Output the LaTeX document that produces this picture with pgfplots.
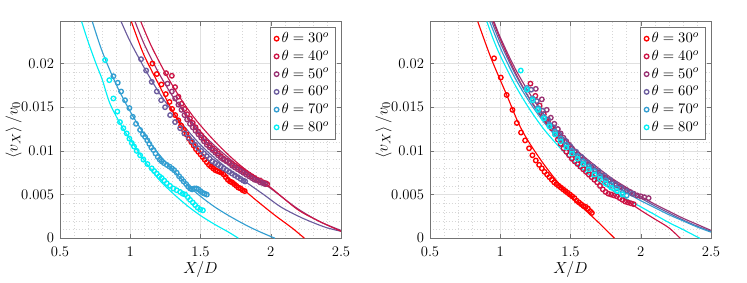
\documentclass[border=0pt]{standalone}
\usepackage{pgfplots}
\pgfplotsset{compat=1.18}
\definecolor{c30}{rgb}{1,0,0}
\definecolor{c40}{rgb}{0.80,0.08,0.27}
\definecolor{c50}{rgb}{0.60,0.20,0.45}
\definecolor{c60}{rgb}{0.42,0.36,0.62}
\definecolor{c70}{rgb}{0.20,0.62,0.82}
\definecolor{c80}{rgb}{0.0,0.94,0.96}
\pgfplotsset{
  myax/.style={
    scale only axis, width=210.75pt, height=162.5pt,
    xmin=0.5, xmax=2.5, ymin=0, ymax=0.0248,
    scaled y ticks=false, scaled x ticks=false,
    xtick={0.5,1,1.5,2,2.5}, xticklabels={0.5,1,1.5,2,2.5},
    ytick={0,0.005,0.01,0.015,0.02}, yticklabels={0,0.005,0.01,0.015,0.02},
    minor x tick num=4, minor y tick num=4,
    grid=both,
    major grid style={line width=0.4pt, draw=black!12},
    minor grid style={line width=0.35pt, draw=black!16, dotted},
    tick align=inside, axis line style={draw=black!55, line width=0.5pt},
    major tick length=3pt, minor tick length=0pt,
    tick style={draw=black!55},
    ticklabel style={font=\fontsize{11}{13}\selectfont},
    xticklabel style={yshift=-2.5pt},
    yticklabel style={xshift=-1pt},
    label style={font=\fontsize{12.5}{14}\selectfont},
    xlabel={$X/D$},
    ylabel={$\left\langle v_X\right\rangle/v_0$},
    xlabel style={at={(axis description cs:0.5,-0.145)}, anchor=north, inner sep=0pt, yshift=6pt},
    ylabel style={at={(axis description cs:-0.165,0.5)}, anchor=center},
    legend style={at={(0.982,0.975)}, anchor=north east, draw=black!55, font=\fontsize{11}{13}\selectfont, row sep=0.2pt, inner xsep=3pt, inner ysep=2pt},
    legend cell align=left,
    clip=true,
  },
  dat/.style={only marks, mark=o, mark size=1.7pt, mark options={line width=1pt, draw=#1}, color=#1},
  fit/.style={no marks, smooth, line width=0.85pt, color=#1, forget plot},
}
\begin{document}
\begin{tikzpicture}
\path[use as bounding box] (-45pt,-33.5pt) rectangle (515.25pt,178.7pt);
% ---------------- LEFT ----------------
\begin{axis}[myax, at={(0,0)}, anchor=south west]
\addplot[dat=c30] coordinates {(1.158,0.0200)(1.189,0.0188)(1.222,0.0176)(1.253,0.0165)(1.279,0.0156)(1.298,0.0148)(1.320,0.0141)(1.342,0.0135)(1.362,0.0129)(1.382,0.0124)(1.400,0.0119)(1.418,0.0114)(1.435,0.0110)(1.452,0.0106)(1.468,0.0102)(1.484,0.0099)(1.500,0.0096)(1.515,0.0093)(1.530,0.0090)(1.545,0.0087)(1.560,0.0084)(1.575,0.0082)(1.590,0.0080)(1.605,0.0078)(1.620,0.0077)(1.635,0.0076)(1.650,0.0075)(1.665,0.0073)(1.680,0.0070)(1.695,0.0067)(1.710,0.0065)(1.725,0.0064)(1.740,0.0062)(1.755,0.0060)(1.770,0.0058)(1.785,0.0057)(1.800,0.0055)(1.815,0.0054)};
\addlegendentry{$\theta=30^o$}
\addplot[dat=c40] coordinates {(1.255,0.0189)(1.296,0.0186)(1.319,0.0173)(1.343,0.0162)(1.365,0.0154)(1.386,0.0148)(1.405,0.0142)(1.425,0.0137)(1.445,0.0132)(1.465,0.0127)(1.485,0.0122)(1.505,0.0118)(1.525,0.0114)(1.545,0.0110)(1.565,0.0106)(1.585,0.0103)(1.605,0.0100)(1.625,0.0097)(1.645,0.0094)(1.665,0.0091)(1.685,0.0089)(1.705,0.0087)(1.725,0.0085)(1.745,0.0083)(1.765,0.0081)(1.785,0.0079)(1.805,0.0077)(1.825,0.0075)(1.845,0.0073)(1.865,0.0071)(1.885,0.0069)(1.905,0.0067)(1.925,0.0066)(1.945,0.0064)(1.965,0.0063)(1.975,0.0062)};
\addlegendentry{$\theta=40^o$}
\addplot[dat=c50] coordinates {(1.265,0.0177)(1.296,0.0168)(1.320,0.0160)(1.343,0.0153)(1.365,0.0147)(1.386,0.0141)(1.405,0.0136)(1.425,0.0131)(1.445,0.0127)(1.465,0.0123)(1.485,0.0119)(1.505,0.0115)(1.525,0.0111)(1.545,0.0107)(1.565,0.0104)(1.585,0.0101)(1.605,0.0098)(1.625,0.0095)(1.645,0.0092)(1.665,0.0090)(1.685,0.0088)(1.705,0.0086)(1.725,0.0083)(1.745,0.0081)(1.765,0.0079)(1.785,0.0077)(1.805,0.0075)(1.825,0.0073)(1.845,0.0071)(1.865,0.0069)(1.885,0.0067)(1.905,0.0066)(1.925,0.0064)(1.945,0.0063)(1.960,0.0062)};
\addlegendentry{$\theta=50^o$}
\addplot[dat=c60] coordinates {(1.077,0.0205)(1.113,0.0192)(1.153,0.0179)(1.189,0.0168)(1.220,0.0158)(1.248,0.0150)(1.284,0.0141)(1.319,0.0133)(1.355,0.0126)(1.385,0.0120)(1.415,0.0115)(1.440,0.0111)(1.462,0.0107)(1.485,0.0103)(1.505,0.0100)(1.525,0.0097)(1.545,0.0094)(1.565,0.0091)(1.585,0.0088)(1.605,0.0086)(1.625,0.0084)(1.645,0.0082)(1.665,0.0080)(1.685,0.0078)(1.705,0.0076)(1.725,0.0074)(1.745,0.0072)(1.765,0.0070)(1.785,0.0068)(1.805,0.0066)(1.818,0.0065)};
\addlegendentry{$\theta=60^o$}
\addplot[dat=c70] coordinates {(0.880,0.01855)(0.911,0.0178)(0.935,0.0168)(0.963,0.0158)(0.994,0.0149)(1.018,0.0139)(1.041,0.0131)(1.070,0.0124)(1.090,0.0119)(1.106,0.0116)(1.122,0.0112)(1.136,0.0108)(1.150,0.0104)(1.165,0.0101)(1.180,0.0097)(1.196,0.0093)(1.210,0.0090)(1.224,0.0088)(1.240,0.0086)(1.260,0.0084)(1.280,0.0082)(1.296,0.0080)(1.312,0.0078)(1.331,0.0075)(1.348,0.0071)(1.365,0.0068)(1.380,0.0065)(1.398,0.0062)(1.412,0.0059)(1.426,0.0057)(1.440,0.0056)(1.455,0.0057)(1.470,0.0057)(1.485,0.0056)(1.500,0.0054)(1.515,0.0052)(1.530,0.0051)(1.545,0.0050)};
\addlegendentry{$\theta=70^o$}
\addplot[dat=c80] coordinates {(0.821,0.0204)(0.851,0.0181)(0.880,0.0160)(0.908,0.0145)(0.927,0.0133)(0.951,0.0126)(0.975,0.0120)(0.994,0.0114)(1.011,0.0109)(1.027,0.0105)(1.046,0.0100)(1.070,0.0095)(1.094,0.0090)(1.122,0.0085)(1.153,0.0080)(1.170,0.0077)(1.189,0.0074)(1.207,0.0071)(1.224,0.0069)(1.242,0.0066)(1.260,0.0063)(1.283,0.0060)(1.307,0.0057)(1.330,0.0055)(1.355,0.0053)(1.373,0.0051)(1.391,0.0050)(1.410,0.0047)(1.426,0.0044)(1.445,0.0041)(1.462,0.0038)(1.480,0.0035)(1.498,0.0033)(1.517,0.0032)};
\addlegendentry{$\theta=80^o$}
% fits
\addplot[fit=c80] coordinates {(0.654,0.0248)(0.70,0.0225)(0.756,0.0200)(0.80,0.0182)(0.856,0.0154)(0.94,0.0128)(1.0,0.0113)(1.1,0.0089)(1.2,0.0068)(1.3,0.0052)(1.4,0.0038)(1.5,0.0026)(1.6,0.0016)(1.7,0.0007)(1.77,0)};
\addplot[fit=c70] coordinates {(0.730,0.0248)(0.80,0.0214)(0.9,0.0176)(1.0,0.0145)(1.1,0.0119)(1.2,0.0097)(1.3,0.0079)(1.4,0.0062)(1.5,0.0048)(1.6,0.0036)(1.7,0.0026)(1.8,0.0017)(1.9,0.0009)(2.03,0)};
\addplot[fit=c60] coordinates {(0.935,0.0248)(1.0,0.0225)(1.1,0.0195)(1.2,0.0168)(1.3,0.0145)(1.4,0.0125)(1.5,0.0107)(1.6,0.0092)(1.7,0.0079)(1.8,0.0067)(1.95,0.0050)(2.07,0.0036)(2.2,0.0025)(2.3,0.0018)(2.4,0.0012)(2.5,0.0008)};
\addplot[fit=c30] coordinates {(1.008,0.0248)(1.094,0.0211)(1.2,0.0177)(1.3,0.0146)(1.4,0.0120)(1.5,0.0099)(1.6,0.0082)(1.7,0.0068)(1.818,0.0054)(1.9,0.0043)(2.032,0.0026)(2.15,0.0012)(2.24,0)};
\addplot[fit=c50] coordinates {(1.034,0.0248)(1.1,0.0222)(1.2,0.0190)(1.3,0.0163)(1.4,0.0141)(1.5,0.0122)(1.6,0.0106)(1.7,0.0092)(1.8,0.0079)(1.9,0.0068)(2.0,0.0057)(2.19,0.0034)(2.35,0.0019)(2.5,0.0009)};
\addplot[fit=c40] coordinates {(1.075,0.0248)(1.15,0.0220)(1.25,0.0189)(1.35,0.0162)(1.45,0.0139)(1.55,0.0120)(1.65,0.0103)(1.75,0.0088)(1.85,0.0075)(2.0,0.0058)(2.19,0.0033)(2.35,0.0019)(2.5,0.0008)};
\end{axis}
% ---------------- RIGHT ----------------
\begin{axis}[myax, at={(277.5pt,0)}, anchor=south west]
\addplot[dat=c30] coordinates {(0.956,0.0206)(1.004,0.0184)(1.046,0.0164)(1.087,0.0147)(1.118,0.0132)(1.148,0.0121)(1.177,0.0112)(1.205,0.0103)(1.229,0.0095)(1.253,0.0089)(1.277,0.0084)(1.296,0.0080)(1.315,0.0076)(1.333,0.0073)(1.350,0.0070)(1.367,0.0067)(1.384,0.0064)(1.400,0.0062)(1.416,0.0060)(1.432,0.0058)(1.448,0.0056)(1.464,0.0054)(1.480,0.0052)(1.496,0.0050)(1.512,0.0048)(1.528,0.0046)(1.544,0.0043)(1.560,0.0041)(1.576,0.0039)(1.592,0.0037)(1.608,0.0036)(1.624,0.0034)(1.640,0.0031)(1.652,0.0029)};
\addlegendentry{$\theta=30^o$}
\addplot[dat=c40] coordinates {(1.215,0.0177)(1.250,0.0163)(1.280,0.0152)(1.310,0.0142)(1.340,0.0133)(1.365,0.0126)(1.390,0.0119)(1.410,0.0113)(1.430,0.0108)(1.450,0.0103)(1.470,0.0099)(1.490,0.0095)(1.510,0.0091)(1.530,0.0088)(1.550,0.0085)(1.570,0.0082)(1.590,0.0079)(1.610,0.0076)(1.630,0.0073)(1.650,0.0070)(1.670,0.0067)(1.690,0.0064)(1.710,0.0060)(1.730,0.0056)(1.750,0.0053)(1.770,0.0051)(1.790,0.0050)(1.810,0.0049)(1.830,0.0048)(1.850,0.0046)(1.870,0.0044)(1.890,0.0042)(1.910,0.0041)(1.930,0.0040)(1.950,0.0039)};
\addlegendentry{$\theta=40^o$}
\addplot[dat=c50] coordinates {(1.253,0.0171)(1.296,0.0159)(1.331,0.0147)(1.360,0.0138)(1.385,0.0131)(1.410,0.0125)(1.430,0.0120)(1.450,0.0115)(1.470,0.0111)(1.490,0.0107)(1.510,0.0103)(1.530,0.0099)(1.550,0.0096)(1.570,0.0093)(1.590,0.0090)(1.610,0.0087)(1.630,0.0084)(1.650,0.0081)(1.675,0.0078)(1.700,0.0075)(1.725,0.0072)(1.750,0.0069)(1.775,0.0066)(1.800,0.0064)(1.825,0.0061)(1.850,0.0059)(1.875,0.0057)(1.900,0.0055)(1.925,0.0053)(1.950,0.0051)(1.975,0.0049)(2.000,0.0048)(2.025,0.0047)(2.056,0.0046)};
\addlegendentry{$\theta=50^o$}
\addplot[dat=c60] coordinates {(1.22,0.0170)(1.26,0.0157)(1.30,0.0146)(1.34,0.0136)(1.38,0.0127)(1.42,0.0119)(1.46,0.0112)(1.50,0.0105)(1.54,0.0099)(1.58,0.0093)(1.62,0.0087)(1.66,0.0082)(1.70,0.0077)(1.74,0.0072)(1.78,0.0067)(1.82,0.0062)(1.86,0.0058)(1.90,0.0054)(1.94,0.0051)};
\addlegendentry{$\theta=60^o$}
\addplot[dat=c70] coordinates {(1.19,0.0172)(1.23,0.0160)(1.27,0.0149)(1.31,0.0139)(1.35,0.0130)(1.39,0.0122)(1.43,0.0114)(1.47,0.0107)(1.51,0.0100)(1.55,0.0094)(1.59,0.0088)(1.63,0.0082)(1.67,0.0077)(1.71,0.0071)(1.75,0.0066)(1.79,0.0061)(1.83,0.0057)(1.87,0.0052)(1.90,0.0049)};
\addlegendentry{$\theta=70^o$}
\addplot[dat=c80] coordinates {(1.146,0.0192)(1.19,0.0170)(1.23,0.0158)(1.27,0.0147)(1.31,0.0137)(1.35,0.0128)(1.39,0.0119)(1.43,0.0111)(1.47,0.0104)(1.51,0.0097)(1.55,0.0091)(1.59,0.0085)(1.63,0.0079)(1.67,0.0073)(1.71,0.0068)(1.75,0.0063)(1.79,0.0058)(1.83,0.0054)(1.87,0.0050)};
\addlegendentry{$\theta=80^o$}
% fits
\addplot[fit=c30] coordinates {(0.840,0.0248)(0.935,0.0206)(1.046,0.0164)(1.129,0.0132)(1.2,0.0111)(1.3,0.0087)(1.4,0.0066)(1.5,0.0048)(1.6,0.0033)(1.7,0.0018)(1.813,0)};
\addplot[fit=c40] coordinates {(0.95,0.0248)(1.0,0.0228)(1.1,0.0192)(1.2,0.0162)(1.3,0.0137)(1.4,0.0116)(1.5,0.0098)(1.6,0.0082)(1.7,0.0068)(1.8,0.0055)(1.9,0.0043)(2.0,0.0032)(2.1,0.0022)(2.2,0.0012)(2.281,0)};
\addplot[fit=c50] coordinates {(0.956,0.0248)(1.0,0.0230)(1.1,0.0196)(1.2,0.0168)(1.3,0.0144)(1.4,0.0124)(1.5,0.0107)(1.6,0.0093)(1.7,0.0080)(1.8,0.0068)(1.9,0.0058)(2.0,0.0048)(2.1,0.0039)(2.2,0.0031)(2.3,0.0023)(2.4,0.0016)(2.5,0.0009)};
\addplot[fit=c60] coordinates {(0.94,0.0248)(1.0,0.0224)(1.1,0.0190)(1.2,0.0162)(1.3,0.0139)(1.4,0.0120)(1.5,0.0103)(1.6,0.0089)(1.7,0.0076)(1.8,0.0065)(1.9,0.0055)(2.0,0.0046)(2.1,0.0037)(2.2,0.0029)(2.3,0.0021)(2.4,0.0014)(2.5,0.0008)};
\addplot[fit=c70] coordinates {(0.925,0.0248)(1.0,0.0218)(1.1,0.0185)(1.2,0.0158)(1.3,0.0135)(1.4,0.0116)(1.5,0.0100)(1.6,0.0086)(1.7,0.0073)(1.8,0.0062)(1.9,0.0052)(2.0,0.0043)(2.1,0.0035)(2.2,0.0027)(2.3,0.0020)(2.4,0.0013)(2.5,0.0007)};
\addplot[fit=c80] coordinates {(0.905,0.0248)(0.95,0.0228)(1.0,0.0209)(1.1,0.0177)(1.2,0.0150)(1.3,0.0127)(1.4,0.0108)(1.5,0.0091)(1.6,0.0077)(1.7,0.0065)(1.8,0.0055)(1.9,0.0045)(2.0,0.0036)(2.1,0.0027)(2.2,0.0018)(2.3,0.0010)(2.42,0)};
\end{axis}
\end{tikzpicture}
\end{document}
